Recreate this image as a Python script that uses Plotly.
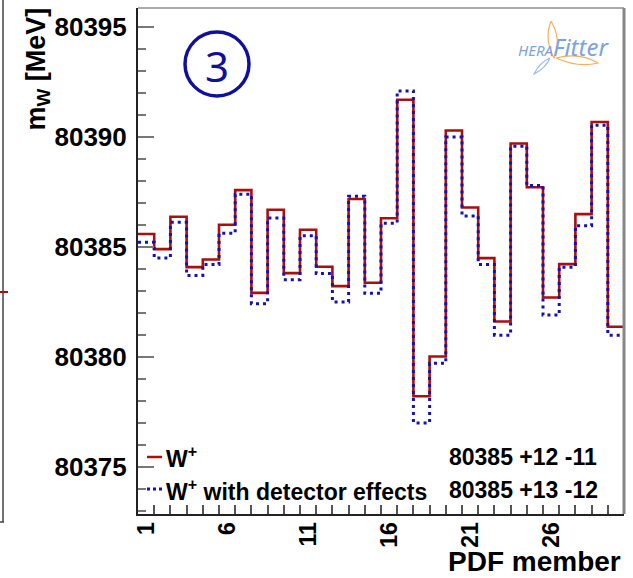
import plotly.graph_objects as go

# ---------------- data ----------------
pdf_members = list(range(1, 31))
mw_wplus = [80385.59, 80384.90, 80386.37, 80384.08, 80384.43, 80386.01, 80387.58, 80382.91,
            80386.69, 80383.81, 80385.78, 80384.10, 80383.22, 80387.18, 80383.37, 80386.30,
            80391.69, 80378.21, 80380.02, 80390.29, 80386.79, 80384.49, 80381.61, 80389.70,
            80387.71, 80382.70, 80384.22, 80386.49, 80390.68, 80381.37]
mw_wplus_det = [80385.21, 80384.50, 80386.12, 80383.70, 80384.20, 80385.62, 80387.39, 80382.42,
                80386.31, 80383.51, 80385.51, 80383.79, 80382.50, 80387.30, 80382.89, 80386.08,
                80392.09, 80377.00, 80379.71, 80390.00, 80386.41, 80384.20, 80380.99, 80389.58,
                80387.79, 80381.90, 80384.08, 80385.96, 80390.53, 80380.99]
series_names = ["W<sup>+</sup>", "W<sup>+</sup> with detector effects"]
central = [80385, 80385]
err_up = [12, 13]
err_down = [11, 12]
x_tick_labels = [1, 6, 11, 16, 21, 26]
y_tick_labels = [80375, 80380, 80385, 80390, 80395]

# ---------------- geometry helpers ----------------
W, H = 633, 578
L, R, T, B = 138, 9, 8, 64
PW, PH = W - L - R, H - T - B


def px(xp):
    return (xp - L) / PW


def py(yp):
    return (H - B - yp) / PH


edges = [m - 0.5 for m in pdf_members] + [pdf_members[-1] + 0.5]

RED = "#a80f0f"
BLUE = "#1212b4"
FONT = "Liberation Sans"

fig = go.Figure()
fig.add_trace(go.Scatter(x=edges, y=mw_wplus + [mw_wplus[-1]], mode="lines",
                         line=dict(shape="hv", color=RED, width=2.6),
                         name=series_names[0], showlegend=False))
fig.add_trace(go.Scatter(x=edges, y=mw_wplus_det + [mw_wplus_det[-1]], mode="lines",
                         line=dict(shape="hv", color=BLUE, width=3, dash="3px,4px"),
                         name=series_names[1], showlegend=False))

fig.update_layout(
    width=W, height=H,
    margin=dict(l=L, r=R, t=T, b=B, pad=0),
    paper_bgcolor="white", plot_bgcolor="white",
    font=dict(family=FONT, color="black"),
)

fig.update_xaxes(
    range=[0.5, 30.5], showgrid=False, zeroline=False,
    showline=True, linecolor="#222", linewidth=2,
    tickmode="array", tickvals=x_tick_labels, ticktext=[str(v) for v in x_tick_labels],
    ticks="inside", ticklen=0, tickangle=-90, ticklabelstandoff=-3,
    tickfont=dict(family=FONT, size=23, weight="bold", color="black"),
    minor=dict(tick0=0.5, dtick=1, ticks="inside", ticklen=9, tickcolor="#555", tickwidth=1.5),
)
fig.update_yaxes(
    range=[80372.86, 80395.86], showgrid=False, zeroline=False,
    showline=True, linecolor="#222", linewidth=2,
    tickmode="array", tickvals=y_tick_labels, ticktext=[str(v) for v in y_tick_labels],
    ticks="inside", ticklen=16, tickcolor="#777", tickwidth=2,
    ticklabelstandoff=4,
    tickfont=dict(family=FONT, size=26, weight="bold", color="black"),
    minor=dict(dtick=1, ticks="inside", ticklen=8, tickcolor="#777", tickwidth=2),
)

shapes = []
# frame (top, right)
shapes.append(dict(type="line", xref="paper", yref="paper", x0=0, x1=1, y0=1, y1=1,
                   line=dict(color="#aaa", width=2)))
shapes.append(dict(type="line", xref="paper", yref="paper", x0=1, x1=1, y0=0, y1=1,
                   line=dict(color="#888", width=3)))
# circled number
shapes.append(dict(type="circle", xref="paper", yref="paper",
                   x0=px(185), x1=px(249), y0=py(96), y1=py(32),
                   line=dict(color="#10109a", width=3.5)))
# legend samples
shapes.append(dict(type="line", xref="paper", yref="paper", x0=px(147), x1=px(162),
                   y0=py(457), y1=py(457), line=dict(color=RED, width=2.5)))
shapes.append(dict(type="line", xref="paper", yref="paper", x0=px(147), x1=px(162),
                   y0=py(489), y1=py(489), line=dict(color=BLUE, width=3, dash="3px,3px")))
# fragment of neighbouring panel on the left
shapes.append(dict(type="line", xref="paper", yref="paper", x0=px(3), x1=px(3),
                   y0=py(0), y1=py(522), line=dict(color="#444", width=1.5)))
shapes.append(dict(type="line", xref="paper", yref="paper", x0=px(0), x1=px(4),
                   y0=py(522), y1=py(522), line=dict(color="#444", width=1.5)))
shapes.append(dict(type="line", xref="paper", yref="paper", x0=px(0), x1=px(8),
                   y0=py(292), y1=py(292), line=dict(color=RED, width=2)))


# logo loops
def path(points):
    s = "M {:.4f},{:.4f}".format(px(points[0][0]), py(points[0][1]))
    for i in range(1, len(points), 2):
        c, e = points[i], points[i + 1]
        s += " Q {:.4f},{:.4f} {:.4f},{:.4f}".format(px(c[0]), py(c[1]), px(e[0]), py(e[1]))
    return s


shapes.append(dict(type="path", xref="paper", yref="paper",
                   path=path([(551, 21), (562, 40), (554, 58), (544, 40), (551, 21)]),
                   line=dict(color="#f2b060", width=1.2)))
shapes.append(dict(type="path", xref="paper", yref="paper",
                   path=path([(556, 58), (580, 52), (598, 63), (578, 68), (556, 58)]),
                   line=dict(color="#f2b060", width=1.2)))
shapes.append(dict(type="path", xref="paper", yref="paper",
                   path=path([(550, 58), (540, 62), (534, 74), (546, 68), (550, 58)]),
                   line=dict(color="#9dbbe8", width=1.2)))
fig.update_layout(shapes=shapes)

ann = []
ann.append(dict(text="m<sub>W</sub> [MeV]", textangle=-90, xref="paper", yref="paper",
                x=px(37), y=py(6), xanchor="center", yanchor="top", showarrow=False,
                font=dict(family=FONT, size=27, weight="bold", color="black")))
ann.append(dict(text="PDF member", xref="paper", yref="paper",
                x=px(623), y=py(579), xanchor="right", yanchor="bottom", showarrow=False,
                font=dict(family=FONT, size=28, weight="bold", color="black")))
ann.append(dict(text="3", xref="paper", yref="paper", x=px(217), y=py(65),
                xanchor="center", yanchor="middle", showarrow=False,
                font=dict(family="Noto Sans", size=42, color="#10109a")))
ann.append(dict(text="<i>HERA</i><i><span style='font-size:24px'>Fitter</span></i>",
                xref="paper", yref="paper", x=px(516), y=py(46),
                xanchor="left", yanchor="middle", showarrow=False,
                font=dict(family="Noto Sans", size=15, color="#7ea3dc")))
ann.append(dict(text=series_names[0], xref="paper", yref="paper",
                x=px(164), y=py(457), xanchor="left", yanchor="middle", showarrow=False,
                font=dict(family=FONT, size=23, weight="bold", color="black")))
ann.append(dict(text=series_names[1], xref="paper", yref="paper",
                x=px(164), y=py(490), xanchor="left", yanchor="middle", showarrow=False,
                font=dict(family=FONT, size=23, weight="bold", color="black")))
for i, yy in enumerate([457, 490]):
    ann.append(dict(text="{} +{} -{}".format(central[i], err_up[i], err_down[i]),
                    xref="paper", yref="paper", x=px(447), y=py(yy),
                    xanchor="left", yanchor="middle", showarrow=False,
                    font=dict(family=FONT, size=23, weight="bold", color="black")))
fig.update_layout(annotations=ann)

fig.write_html("out.html")
